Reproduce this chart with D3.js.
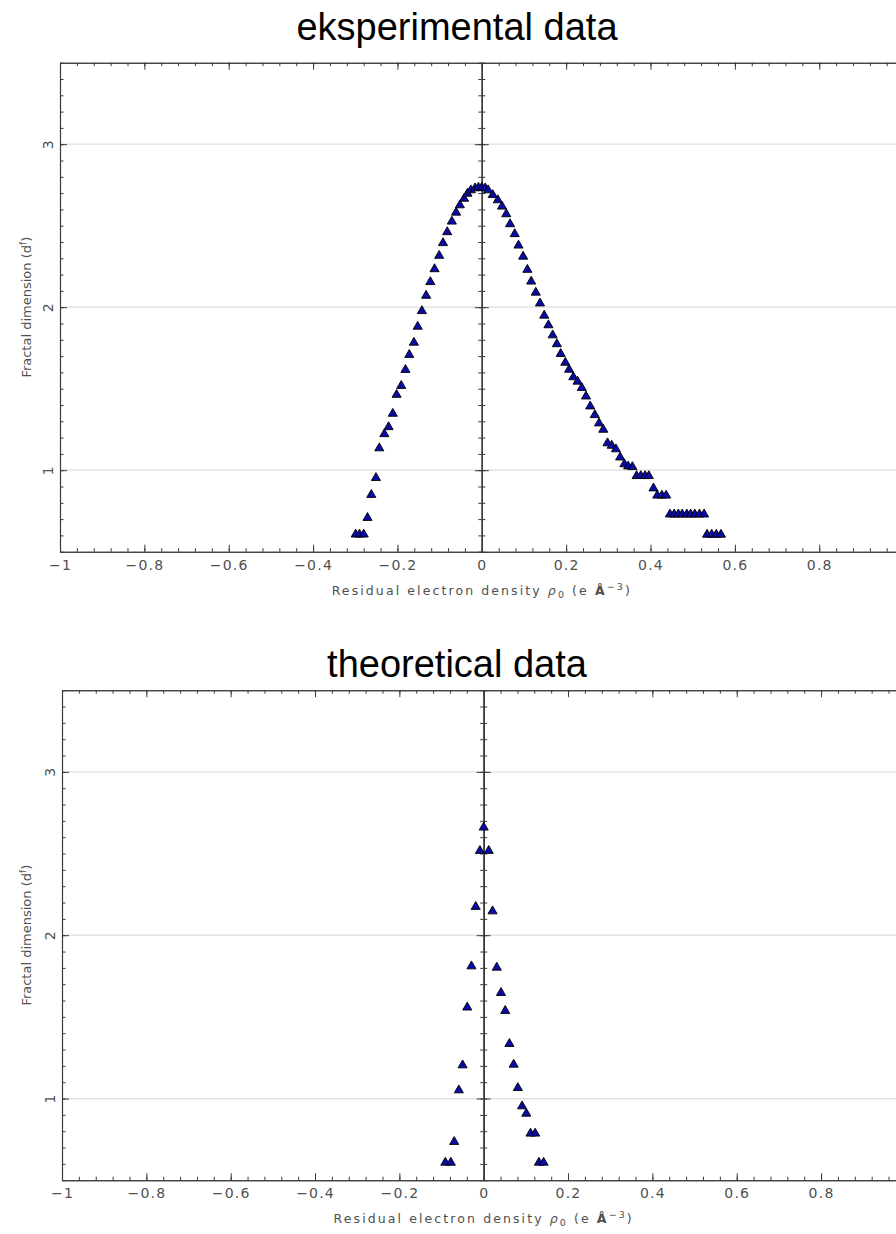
<!DOCTYPE html>
<html>
<head>
<meta charset="utf-8">
<script src="https://cdn.jsdelivr.net/npm/d3@7"></script>
<style>
  body { margin: 0; background: #fff; }
  svg { display: block; }
</style>
</head>
<body>
<svg id="chart" width="896" height="1234"></svg>
<script>
// Fractal dimension d^f versus residual electron density rho0, experimental set
const expRho = [
  -0.299, -0.290, -0.280, -0.271, -0.262, -0.251, -0.243, -0.231, -0.221, -0.211,
  -0.202, -0.191, -0.181, -0.172, -0.161, -0.152, -0.142, -0.132, -0.122, -0.112,
  -0.101, -0.092, -0.082, -0.071, -0.061, -0.052, -0.042, -0.034, -0.026, -0.016,
  -0.008, 0.000,
  0.008, 0.015, 0.026, 0.038, 0.048, 0.058, 0.067, 0.078, 0.087, 0.098,
  0.108, 0.117, 0.128, 0.138, 0.148, 0.158, 0.168, 0.178, 0.187, 0.198,
  0.207, 0.217, 0.227, 0.237, 0.247, 0.257, 0.268, 0.278, 0.288, 0.298,
  0.308, 0.318, 0.328, 0.338, 0.347, 0.357, 0.367, 0.377, 0.387, 0.396,
  0.407, 0.416, 0.427, 0.437,
  0.446, 0.456, 0.466, 0.475, 0.486, 0.495, 0.505, 0.516, 0.527,
  0.534, 0.545, 0.556, 0.567
];
const expDf = [
  0.606, 0.606, 0.606, 0.708, 0.849, 0.953, 1.135, 1.222, 1.265, 1.347,
  1.463, 1.518, 1.616, 1.708, 1.783, 1.881, 1.977, 2.071, 2.155, 2.234,
  2.316, 2.394, 2.461, 2.526, 2.581, 2.626, 2.666, 2.697, 2.718, 2.730,
  2.734, 2.734,
  2.730, 2.718, 2.689, 2.657, 2.618, 2.571, 2.510, 2.449, 2.379, 2.311,
  2.230, 2.158, 2.090, 2.024, 1.949, 1.890, 1.828, 1.774, 1.714, 1.660,
  1.617, 1.571, 1.544, 1.505, 1.453, 1.392, 1.339, 1.288, 1.249, 1.166,
  1.151, 1.129, 1.079, 1.037, 1.024, 1.020, 0.965, 0.965, 0.965, 0.965,
  0.889, 0.845, 0.845, 0.845,
  0.729, 0.729, 0.729, 0.729, 0.729, 0.729, 0.729, 0.729, 0.729,
  0.605, 0.605, 0.605, 0.605
];

// Same quantity for the theoretical set
const theoRho = [
  0.000, -0.009, 0.012, -0.019, 0.021, -0.029, 0.031, 0.041, -0.039, 0.051,
  0.061, -0.050, 0.071, -0.059, 0.081, 0.091, 0.101, -0.070, 0.111, 0.122,
  -0.091, -0.078, 0.131, 0.142
];
const theoDf = [
  2.660, 2.517, 2.517, 2.174, 2.147, 1.810, 1.802, 1.647, 1.558, 1.537,
  1.335, 1.204, 1.208, 1.051, 1.065, 0.953, 0.908, 0.735, 0.786, 0.786,
  0.608, 0.608, 0.608, 0.608
];

// the tick at +1 sits on the frame edge, beyond the visible page, so it carries no label
const xTickValues = [-1, -0.8, -0.6, -0.4, -0.2, 0, 0.2, 0.4, 0.6, 0.8, 1];
const xTickLabels = ["\u22121", "\u22120.8", "\u22120.6", "\u22120.4", "\u22120.2", "0", "0.2", "0.4", "0.6", "0.8", ""];
const yTickValues = [1, 2, 3];
const yTickLabels = ["1", "2", "3"];
const panelTitles = ["eksperimental data", "theoretical data"];

const xDomain = [-1, 1];
const yDomain = [0.5, 3.5];

const svg = d3.select("#chart");

const panels = [
  { title: panelTitles[0], rho: expRho, df: expDf,
    left: 60, xSpan: 843.6, top: 62.7, bottom: 551.7, titleY: 40 },
  { title: panelTitles[1], rho: theoRho, df: theoDf,
    left: 62, xSpan: 843.4, top: 690.2, bottom: 1180.2, titleY: 677 }
];

const axisColor = "#3a3a3a";
const labelColor = "#505050";
const gridColor = "#dedede";

// minor tick positions
const xMinor = d3.range(-25, 26).map(i => +(i * 0.04).toFixed(2));
const yMinor = d3.range(5, 36).map(i => +(i * 0.1).toFixed(1));

function styleAxis(g) {
  g.select(".domain").attr("stroke", axisColor).attr("stroke-width", 1.1);
  g.selectAll(".tick line").attr("stroke", axisColor).attr("stroke-width", 1);
}

panels.forEach(p => {
  const x = d3.scaleLinear().domain(xDomain).range([p.left, p.left + p.xSpan]);
  const y = d3.scaleLinear().domain(yDomain).range([p.bottom, p.top]);
  const g = svg.append("g");

  // horizontal grid lines at integer dimensions
  g.append("g").selectAll("line")
    .data(yTickValues)
    .join("line")
    .attr("x1", x(-1)).attr("x2", x(1))
    .attr("y1", d => y(d)).attr("y2", d => y(d))
    .attr("stroke", gridColor).attr("stroke-width", 1.2);

  // bottom axis: inward ticks + labels
  const bottomMinor = g.append("g").attr("transform", `translate(0,${p.bottom})`)
    .call(d3.axisBottom(x).tickValues(xMinor).tickSize(-3.5).tickSizeOuter(0).tickFormat(""));
  styleAxis(bottomMinor);
  const bottomMajor = g.append("g").attr("transform", `translate(0,${p.bottom})`)
    .call(d3.axisBottom(x).tickValues(xTickValues).tickSize(-7).tickSizeOuter(0).tickPadding(8)
      .tickFormat((d, i) => xTickLabels[i]));
  styleAxis(bottomMajor);
  bottomMajor.selectAll("text")
    .attr("fill", labelColor)
    .style("font-family", "'DejaVu Sans', sans-serif")
    .style("font-size", "14px")
    .style("letter-spacing", "1.2px");

  // top axis: inward ticks only
  const topMinor = g.append("g").attr("transform", `translate(0,${p.top})`)
    .call(d3.axisTop(x).tickValues(xMinor).tickSize(-3.5).tickSizeOuter(0).tickFormat(""));
  styleAxis(topMinor);
  const topMajor = g.append("g").attr("transform", `translate(0,${p.top})`)
    .call(d3.axisTop(x).tickValues(xTickValues).tickSize(-7).tickSizeOuter(0).tickFormat(""));
  styleAxis(topMajor);

  // left axis: inward ticks + vertical labels
  const leftMinor = g.append("g").attr("transform", `translate(${p.left},0)`)
    .call(d3.axisLeft(y).tickValues(yMinor).tickSize(-3.5).tickSizeOuter(0).tickFormat(""));
  styleAxis(leftMinor);
  const leftMajor = g.append("g").attr("transform", `translate(${p.left},0)`)
    .call(d3.axisLeft(y).tickValues(yTickValues).tickSize(-7).tickSizeOuter(0)
      .tickFormat((d, i) => yTickLabels[i]));
  styleAxis(leftMajor);
  leftMajor.selectAll("text")
    .attr("transform", "rotate(-90)")
    .attr("x", 0).attr("y", -7.5).attr("dy", 0)
    .attr("text-anchor", "middle")
    .attr("fill", labelColor)
    .style("font-family", "'DejaVu Sans', sans-serif")
    .style("font-size", "14px");

  // right axis (frame edge): inward ticks
  const rightMinor = g.append("g").attr("transform", `translate(${x(1)},0)`)
    .call(d3.axisRight(y).tickValues(yMinor).tickSize(-3.5).tickSizeOuter(0).tickFormat(""));
  styleAxis(rightMinor);
  const rightMajor = g.append("g").attr("transform", `translate(${x(1)},0)`)
    .call(d3.axisRight(y).tickValues(yTickValues).tickSize(-7).tickSizeOuter(0).tickFormat(""));
  styleAxis(rightMajor);

  // zero line with cross ticks
  [d3.axisLeft, d3.axisRight].forEach(axisFn => {
    const zm = g.append("g").attr("transform", `translate(${x(0)},0)`)
      .call(axisFn(y).tickValues(yMinor).tickSize(3.5).tickSizeOuter(0).tickFormat(""));
    styleAxis(zm);
    const zM = g.append("g").attr("transform", `translate(${x(0)},0)`)
      .call(axisFn(y).tickValues(yTickValues).tickSize(7).tickSizeOuter(0).tickFormat(""));
    styleAxis(zM);
  });

  // data markers
  const tri = d3.symbol().type(d3.symbolTriangle).size(36);
  g.append("g").selectAll("path")
    .data(d3.range(p.rho.length))
    .join("path")
    .attr("d", tri)
    .attr("transform", i => `translate(${x(p.rho[i])},${y(p.df[i])})`)
    .attr("fill", "#0a0aa6")
    .attr("stroke", "#000")
    .attr("stroke-width", 0.9);

  // panel title
  svg.append("text")
    .attr("x", 457).attr("y", p.titleY)
    .attr("text-anchor", "middle")
    .style("font-family", "'Liberation Sans', Arial, sans-serif")
    .style("font-size", "38px")
    .attr("fill", "#000")
    .text(p.title);

  // x axis title
  const xt = svg.append("text")
    .attr("x", x(0)).attr("y", p.bottom + 43)
    .attr("text-anchor", "middle")
    .attr("fill", labelColor)
    .style("font-family", "'DejaVu Sans', sans-serif")
    .style("font-size", "12.5px")
    .style("letter-spacing", "2.1px");
  xt.append("tspan").text("Residual electron density ");
  xt.append("tspan").style("font-style", "italic").text("\u03c1");
  xt.append("tspan").attr("dy", 3).style("font-size", "9.5px").text("0");
  xt.append("tspan").attr("dy", -3).text(" (e ");
  xt.append("tspan").style("font-weight", "bold").text("\u00c5");
  xt.append("tspan").attr("dy", -5).style("font-size", "9.5px").text("\u22123");
  xt.append("tspan").attr("dy", 5).text(")");

  // y axis title
  const cy = (p.top + p.bottom) / 2;
  const yt = svg.append("text")
    .attr("transform", `translate(31,${cy}) rotate(-90)`)
    .attr("text-anchor", "middle")
    .attr("fill", labelColor)
    .style("font-family", "'DejaVu Sans', sans-serif")
    .style("font-size", "13px");
  yt.append("tspan").text("Fractal dimension (d");
  yt.append("tspan").attr("dy", -5).style("font-size", "9px").text("f");
  yt.append("tspan").attr("dy", 5).text(")");
});
</script>
</body>
</html>
